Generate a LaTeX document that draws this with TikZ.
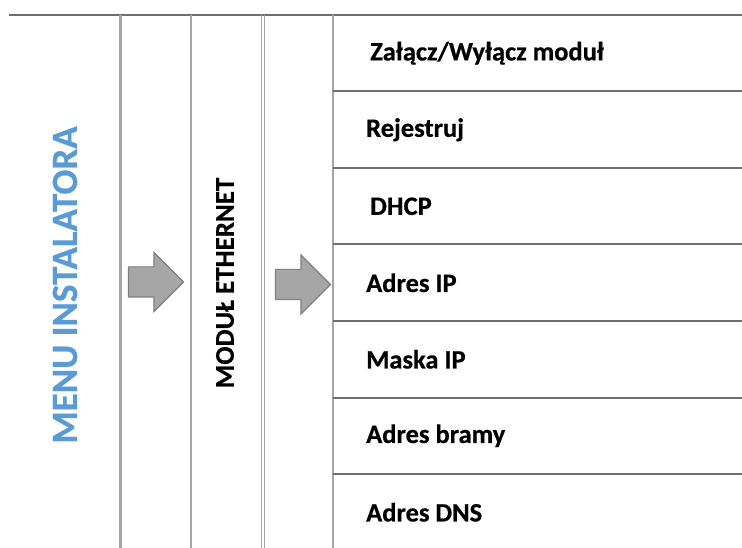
\documentclass[tikz,border=0pt]{standalone}
\usepackage{fontspec}
\setmainfont{Carlito}[BoldFeatures={FakeBold=0.6}]
\usetikzlibrary{shapes.arrows}
\definecolor{menublue}{HTML}{5B9BD5}
\definecolor{colgray}{HTML}{A6A6A6}
\definecolor{rulegray}{HTML}{6F6F6F}
\definecolor{arrowedge}{HTML}{808080}
\newcommand{\tabtop}{15}
\newcommand{\tabbot}{548}
\newcommand{\rowh}{76.5}
\newcommand{\listx}{333}
\tikzset{
  colline/.style={draw=colgray, line width=2pt},
  rowline/.style={draw=rulegray, line width=2pt},
  steparrow/.style={single arrow, draw=arrowedge, fill=colgray, line width=1.2pt,
    minimum height=55pt, single arrow head extend=14.5pt,
    inner xsep=0pt, inner ysep=14.5pt, text height=0pt, text depth=0pt},
  itemtext/.style={anchor=west, font=\bfseries\fontsize{26.5}{30}\selectfont, inner sep=0pt}
}
\begin{document}
\begin{tikzpicture}[x=1pt, y=-1pt]
    \useasboundingbox (0,0) rectangle (742,548);

    % top rule
    \draw[rowline] (9,\tabtop) -- (742,\tabtop);

    % columns
    \draw[colline, line width=3pt] (120,\tabtop) -- (120,\tabbot);
    \draw[colline] (191,\tabtop) -- (191,\tabbot);
    \draw[colline, line width=1.5pt] (261.5,\tabtop) -- (261.5,\tabbot);
    \draw[colline, line width=1.5pt] (264.5,\tabtop) -- (264.5,\tabbot);
    \draw[colline] (\listx,\tabtop) -- (\listx,\tabbot);

    % rows of the list
    \foreach \r in {1,...,6}
      \draw[rowline] (\listx,\tabtop+\r*\rowh) -- (742,\tabtop+\r*\rowh);

    % titles
    \node[rotate=90, text=menublue, font=\bfseries\fontsize{37}{40}\selectfont,
      inner sep=0pt] (menu) at (65,285) {MENU INSTALATORA};
    \node[rotate=90, font=\bfseries\fontsize{27}{30}\selectfont,
      inner sep=0pt] (modul) at (225,283) {MODUŁ ETHERNET};

    % arrows
    \node[steparrow] (arrowa) at (148.5,282) {};
    \node[steparrow] (arrowb) at (295.5,284.5) {};

    % list items
    \foreach \x/\t [count=\i from 0] in {370/Załącz\slash Wyłącz moduł, 366/Rejestruj,
        370/DHCP, 366/Adres IP, 366/Maska IP, 366/Adres bramy, 366/Adres DNS}
      \node[itemtext] (item\i) at (\x,\tabtop+\i*\rowh+0.5*\rowh) {\t};
\end{tikzpicture}
\end{document}
